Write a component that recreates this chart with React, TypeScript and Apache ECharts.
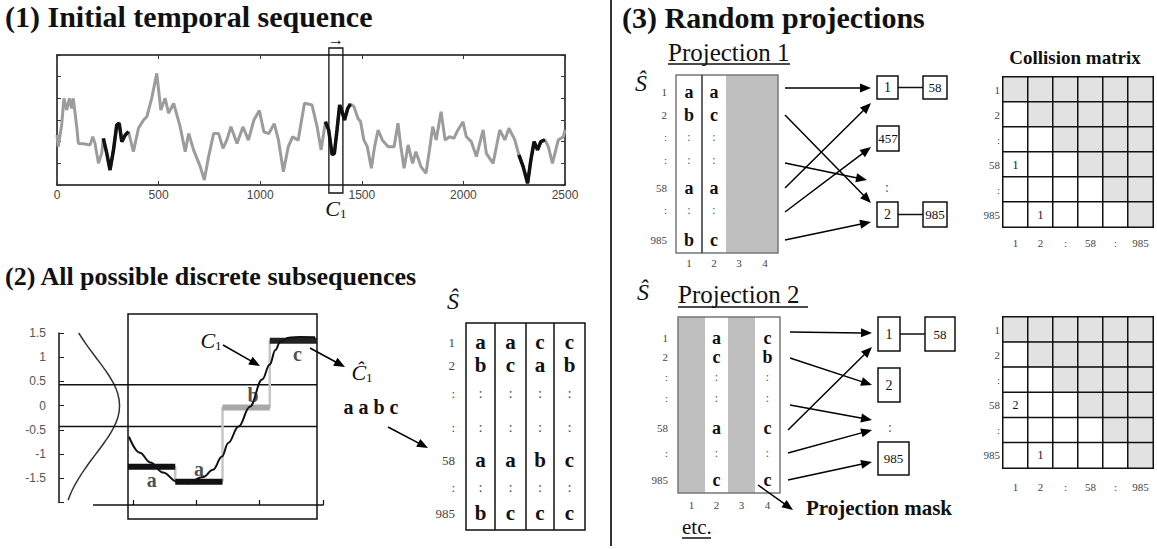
import { useEffect, useRef } from "react";
import * as echarts from "echarts";

const SERIF = "'Liberation Serif', 'Times New Roman', serif";
const SANS = "'Liberation Sans', Arial, sans-serif";

// ---------------- Panel 1 : initial temporal sequence ----------------
const seqT = [0, 6, 23, 34, 48, 61, 72, 80, 97, 105, 130, 163, 176, 187, 204, 220, 228, 245, 261, 278, 294, 306, 319, 336, 352, 376, 401, 426, 442, 466, 491, 511, 532, 549, 574, 606, 631, 648, 672, 705, 725, 746, 771, 795, 817, 836, 856, 886, 915, 942, 969, 996, 1018, 1042, 1069, 1090, 1114, 1138, 1159, 1187, 1198, 1218, 1255, 1280, 1300, 1321, 1337, 1354, 1365, 1378, 1391, 1403, 1415, 1431, 1444, 1461, 1481, 1494, 1510, 1527, 1547, 1563, 1580, 1601, 1629, 1659, 1678, 1692, 1708, 1728, 1750, 1766, 1791, 1816, 1833, 1849, 1866, 1890, 1910, 1932, 1953, 1973, 1998, 2014, 2039, 2064, 2097, 2113, 2146, 2179, 2204, 2224, 2253, 2273, 2294, 2316, 2332, 2348, 2365, 2381, 2401, 2418, 2438, 2467, 2492, 2500];
const seqV = [-0.69, -1.23, -0.23, 1.0, 0.46, 1.0, 0.54, 1.0, -0.31, -1.08, -1.1, -1.15, -0.77, -1.08, -2.0, -1.54, -0.85, -1.54, -2.31, -1.38, -0.23, -0.15, -1.0, -0.69, -0.54, -1.46, -0.38, 0, 0.15, 1.0, 2.15, 0.46, 1.0, 0.31, 0.77, -0.31, -1.46, -0.62, -1.38, -2.15, -2.77, -1.69, -0.62, -0.62, -1.31, -0.92, -0.31, -1.08, -0.32, -0.93, 0, 0.44, -0.55, -0.63, -0.17, -0.93, -2.39, -1.24, -0.78, -0.93, -0.31, 0.77, 0.69, -0.31, -1.38, -0.08, -0.46, -1.61, -1.54, -0.46, 0.69, 0.38, 0, 0.54, 0.74, 0.62, 0.08, -0.08, -0.92, -1.23, -2.23, -1.23, -0.46, -0.92, -1.23, -1.23, -0.15, -1.23, -2.23, -1.15, -2.0, -1.46, -2.15, -2.46, -1.38, -0.31, -0.92, 0.38, -0.92, -0.77, -0.85, -0.46, -0.08, -0.77, -1.0, -1.69, -0.46, -1.54, -2.0, -0.46, -0.92, -0.38, -0.92, -1.61, -2.15, -2.92, -1.85, -1.0, -1.38, -1.0, -0.92, -1.23, -2.0, -0.92, -0.77, -0.46];
const highlightRanges = [[228, 352], [1321, 1444], [2273, 2401]];
const c1Window = [1338, 1407];

// ---------------- Panel 2 : discretisation ----------------
const breakpoints = [-0.43, 0.43];
const gaussV = [1.5, 1.25, 1, 0.75, 0.5, 0.25, 0, -0.25, -0.5, -0.75, -1, -1.25, -1.5, -1.75, -1.95];
const gaussPdf = [0.13, 0.183, 0.242, 0.301, 0.352, 0.387, 0.399, 0.387, 0.352, 0.301, 0.242, 0.183, 0.13, 0.086, 0.06];
const c1Pos = [0.02, 0.25, 0.47, 0.74, 1.04, 1.25, 1.59, 1.8, 1.99, 2.12, 2.34, 2.58, 2.84, 3.0, 3.12, 3.22, 3.4, 3.64, 3.96];
const c1Val = [-0.64, -0.97, -1.17, -1.38, -1.57, -1.6, -1.47, -1.32, -1.05, -0.77, -0.43, -0.02, 0.54, 0.85, 1.15, 1.32, 1.4, 1.42, 1.41];
const paaValues = [-1.26, -1.57, -0.04, 1.34];
const saxWord = ["a", "a", "b", "c"];

const sHatRowLabels = ["1", "2", ":", ":", "58", ":", "985"];
const sHatCells = [
  ["a", "a", "c", "c"],
  ["b", "c", "a", "b"],
  [":", ":", ":", ":"],
  [":", ":", ":", ":"],
  ["a", "a", "b", "c"],
  [":", ":", ":", ":"],
  ["b", "c", "c", "c"],
];
const colNumbers = ["1", "2", "3", "4"];

// ---------------- Panel 3 : random projections ----------------
const mask1 = [true, true, false, false];
const mask2 = [false, true, false, true];
const proj1Buckets = ["1", "457", ":", "2"];
const proj1Partners = ["58", "", "", "985"];
const proj2Buckets = ["1", "2", ":", "985"];
const proj2Partners = ["58", "", "", ""];
const cmLabels = ["1", "2", ":", "58", ":", "985"];
const cm1Counts = [[3, 0, 1], [5, 1, 1]]; // [row, col, count]
const cm2Counts = [[3, 0, 2], [5, 1, 1]];

// ---------------- layout (pixels) ----------------
const G1 = { left: 57, top: 55, width: 508, height: 130 };
const G2Y = { left: 59, top: 333, width: 258, height: 169.6 };
const Y2_MIN = -2, Y2_MAX = 1.5, GAUSS_X_MAX = 1.7;
const BOX = { left: 128, top: 314, width: 189, height: 205 };
const STRIP = { lineStart: 93, left: 133, width: 190, top: 480, height: 25 };
const PX_PER_UNIT = G2Y.height / (Y2_MAX - Y2_MIN);
const BOX_YMAX = Y2_MAX + (G2Y.top - BOX.top) / PX_PER_UNIT;
const BOX_YMIN = Y2_MIN - (BOX.top + BOX.height - (G2Y.top + G2Y.height)) / PX_PER_UNIT;

const T2 = { x: [466, 495, 526, 554, 585], top: 323, bottom: 530, rows: [342, 365, 393, 427, 460, 487, 513], labelX: 455, font: 21 };
const P1 = { x: [676, 702, 726, 752, 778], top: 75, bottom: 253, rows: [92, 115, 137, 160, 188, 210, 240], labelX: 667, colLabelY: 263, font: 18 };
const P2 = { x: [678, 705, 728, 755, 780], top: 317, bottom: 493, rows: [338, 357, 377, 398, 428, 453, 480], labelX: 668, colLabelY: 505, font: 18 };

const P1_BOXES = [
  { x: 877, y: 76, w: 21, h: 23 },
  { x: 877, y: 126, w: 22, h: 25 },
  { x: 887, y: 187, w: 0, h: 0 },
  { x: 877, y: 202, w: 21, h: 25 },
];
const P1_PARTNER_X = 923, P1_PARTNER_W = 24;
const P2_BOXES = [
  { x: 878, y: 317, w: 22, h: 34 },
  { x: 878, y: 368, w: 22, h: 34 },
  { x: 890, y: 427, w: 0, h: 0 },
  { x: 878, y: 442, w: 31, h: 33 },
];
const P2_PARTNER_X = 925, P2_PARTNER_W = 30;
const P1_ARROWS = [[785, 88, 871, 88], [785, 115, 871, 203], [785, 163, 867, 180], [785, 188, 871, 103], [785, 212, 871, 147], [785, 240, 871, 222]];
const P2_ARROWS = [[790, 332, 872, 333], [790, 358, 872, 385], [790, 405, 872, 420], [788, 430, 872, 347], [788, 453, 872, 430], [788, 480, 872, 462]];

function text(x: number, y: number, t: string, font: string, extra: any = {}) {
  return {
    type: "text",
    z: 20,
    style: {
      x, y, text: t, font, fill: extra.fill || "#111",
      textAlign: extra.align || "center", align: extra.align || "center",
      textVerticalAlign: "middle", verticalAlign: "middle",
    },
  };
}

function arrow(x1: number, y1: number, x2: number, y2: number, lw = 1.5, head = 11, hw = 4.5) {
  const dx = x2 - x1, dy = y2 - y1, L = Math.hypot(dx, dy), ux = dx / L, uy = dy / L;
  const bx = x2 - ux * head, by = y2 - uy * head;
  return [
    { type: "line", z: 20, shape: { x1, y1, x2: bx + ux, y2: by + uy }, style: { stroke: "#000", lineWidth: lw } },
    { type: "polygon", z: 20, shape: { points: [[x2, y2], [bx - uy * hw, by + ux * hw], [bx + uy * hw, by - ux * hw]] }, style: { fill: "#000" } },
  ];
}

function hline(x1: number, x2: number, y: number, stroke = "#111", lw = 1.5) {
  return { type: "line", z: 20, shape: { x1, y1: y, x2, y2: y }, style: { stroke, lineWidth: lw } };
}
function vline(x: number, y1: number, y2: number, stroke = "#111", lw = 1.5) {
  return { type: "line", z: 20, shape: { x1: x, y1, x2: x, y2 }, style: { stroke, lineWidth: lw } };
}

function table(L: any, mask: boolean[] | null, colLabels: boolean, border: string, rowFont: number) {
  const els: any[] = [];
  const x0 = L.x[0], x1 = L.x[4];
  els.push({ type: "rect", z: 15, shape: { x: x0, y: L.top, width: x1 - x0, height: L.bottom - L.top }, style: { fill: "#fff" } });
  for (let c = 0; c < 4; c++) {
    if (mask && !mask[c]) {
      els.push({ type: "rect", z: 16, shape: { x: L.x[c], y: L.top, width: L.x[c + 1] - L.x[c], height: L.bottom - L.top }, style: { fill: "#bfbfbf" } });
    }
  }
  els.push({ type: "rect", z: 17, shape: { x: x0, y: L.top, width: x1 - x0, height: L.bottom - L.top }, style: { fill: "none", stroke: border, lineWidth: 1.5 } });
  for (let c = 1; c < 4; c++) {
    if (!mask || (mask[c - 1] && mask[c])) els.push(vline(L.x[c], L.top, L.bottom, mask ? "#333" : "#111", 1.5));
  }
  sHatRowLabels.forEach((lab, r) => {
    els.push(text(L.labelX, L.rows[r], lab, `${rowFont}px ${SERIF}`, { align: "right", fill: "#444" }));
    sHatCells[r].forEach((ch, c) => {
      if (mask && !mask[c]) return;
      const cx = (L.x[c] + L.x[c + 1]) / 2;
      const f = ch === ":" ? `${L.font - 6}px ${SERIF}` : `bold ${L.font}px ${SERIF}`;
      els.push(text(cx, L.rows[r], ch, f, { fill: ch === ":" ? "#555" : "#111" }));
    });
  });
  if (colLabels) {
    colNumbers.forEach((n, c) => els.push(text((L.x[c] + L.x[c + 1]) / 2, L.colLabelY, n, `11px ${SERIF}`, { fill: "#444" })));
  }
  return els;
}

function buckets(boxes: any[], labels: string[], partners: string[], px: number, pw: number) {
  const els: any[] = [];
  boxes.forEach((b, i) => {
    if (labels[i] === ":") {
      els.push(text(b.x, b.y, ":", `14px ${SERIF}`, { fill: "#555" }));
      return;
    }
    els.push({ type: "rect", z: 20, shape: { x: b.x, y: b.y, width: b.w, height: b.h }, style: { fill: "#fff", stroke: "#111", lineWidth: 1.5 } });
    els.push(text(b.x + b.w / 2, b.y + b.h / 2, labels[i], `${labels[i].length > 2 ? 13 : 14}px ${SERIF}`));
    if (partners[i]) {
      els.push(hline(b.x + b.w, px, b.y + b.h / 2));
      els.push({ type: "rect", z: 20, shape: { x: px, y: b.y, width: pw, height: b.h }, style: { fill: "#fff", stroke: "#111", lineWidth: 1.5 } });
      els.push(text(px + pw / 2, b.y + b.h / 2, partners[i], `13px ${SERIF}`));
    }
  });
  return els;
}

// cell value: [col, row, count, shade(1 = upper triangle)]
function heatData(counts: number[][]) {
  const out: number[][] = [];
  for (let r = 0; r < cmLabels.length; r++) {
    for (let c = 0; c < cmLabels.length; c++) {
      const hit = counts.find((k) => k[0] === r && k[1] === c);
      out.push([c, r, hit ? hit[2] : 0, c >= r ? 1 : 0]);
    }
  }
  return out;
}

export default function App() {
  const ref = useRef<HTMLDivElement>(null);
  useEffect(() => {
    if (!ref.current) return;
    const chart = echarts.init(ref.current, null, { renderer: "svg" });
    const seqData = seqT.map((t, i) => [t, seqV[i]]);
    const blackSeries = highlightRanges.map(([a, b]) => ({
      type: "line", xAxisIndex: 0, yAxisIndex: 0, symbol: "none", z: 3,
      lineStyle: { color: "#111", width: 3.5 },
      data: seqData.filter((d) => d[0] >= a && d[0] <= b),
    }));
    const steps: number[][] = [];
    paaValues.forEach((v, i) => { steps.push([i, v]); steps.push([i + 1, v]); });
    const paaColors = ["#111", "#111", "#a8a8a8", "#222"];
    const letterPos = ["bottom", "top", "top", "bottom"];
    const letterOff = [[0, 0], [0, 0], [7, 0], [4, 0]];

    const axisBase = { axisLine: { show: false }, axisTick: { show: false }, axisLabel: { show: false }, splitLine: { show: false } };
    const boxLine = { show: true, onZero: false, lineStyle: { color: "#111", width: 1.5 } };
    const innerTick = { show: true, inside: true, length: 4, lineStyle: { color: "#333" } };

    const cmAxes = (gi: number, margin: number) => ({
      x: {
        type: "category", gridIndex: gi, data: cmLabels, position: "bottom",
        axisLine: { show: false }, axisTick: { show: false }, splitLine: { show: false },
        axisLabel: { fontFamily: SERIF, fontSize: 11, color: "#444", margin },
      },
      y: {
        type: "category", gridIndex: gi, data: cmLabels, inverse: true,
        axisLine: { show: false }, axisTick: { show: false }, splitLine: { show: false },
        axisLabel: { fontFamily: SERIF, fontSize: 11, color: "#444", margin: 3 },
      },
    });
    const cm1 = cmAxes(4, 10), cm2 = cmAxes(5, 13);

    const series: any[] = [
      {
        type: "line", xAxisIndex: 0, yAxisIndex: 0, symbol: "none", z: 2,
        lineStyle: { color: "#9c9c9c", width: 3 }, data: seqData,
      },
      ...blackSeries,
      {
        type: "line", xAxisIndex: 2, yAxisIndex: 2, symbol: "none", smooth: true,
        lineStyle: { color: "#333", width: 1.5 }, data: gaussV.map((v, i) => [gaussPdf[i], v]),
      },
      ...breakpoints.map((b) => ({
        type: "line", xAxisIndex: 2, yAxisIndex: 2, symbol: "none",
        lineStyle: { color: "#111", width: 1.5 }, data: [[0, b], [GAUSS_X_MAX, b]],
      })),
      {
        type: "line", xAxisIndex: 3, yAxisIndex: 3, symbol: "none",
        lineStyle: { color: "#c6c6c6", width: 2.5 }, data: steps,
      },
      ...paaValues.map((v, i) => ({
        type: "line", xAxisIndex: 3, yAxisIndex: 3, symbol: "none",
        lineStyle: { color: paaColors[i], width: 6, cap: "butt" }, data: [[i, v], [i + 1, v]],
      })),
      {
        type: "line", xAxisIndex: 3, yAxisIndex: 3, symbol: "none", smooth: 0.4, smoothMonotone: "x", z: 4,
        lineStyle: { color: "#111", width: 2 }, data: c1Pos.map((p, i) => [p, c1Val[i]]),
      },
      {
        type: "scatter", xAxisIndex: 3, yAxisIndex: 3, symbolSize: 0.1, z: 5,
        itemStyle: { color: "rgba(0,0,0,0)" },
        data: saxWord.map((ch, i) => ({
          value: [i + 0.5, paaValues[i]],
          label: { show: true, formatter: ch, position: letterPos[i], offset: letterOff[i], distance: 3, fontFamily: SERIF, fontWeight: "bold", fontSize: 20, color: "#222" },
        })),
      },
    ];
    const heatIdx: number[] = [];
    [{ xi: 5, counts: cm1Counts }, { xi: 6, counts: cm2Counts }].forEach((m) => {
      heatIdx.push(series.length);
      series.push({
        type: "heatmap", xAxisIndex: m.xi, yAxisIndex: m.xi,
        itemStyle: { borderColor: "#111", borderWidth: 1.5 },
        label: {
          show: true, fontFamily: SERIF, fontSize: 12, color: "#111",
          formatter: (p: any) => (p.value[2] ? String(p.value[2]) : ""),
        },
        emphasis: { disabled: true },
        data: heatData(m.counts),
      });
    });

    chart.setOption({
      animation: false,
      backgroundColor: "#fff",
      visualMap: {
        type: "piecewise", show: false, seriesIndex: heatIdx, dimension: 3,
        pieces: [{ value: 1, color: "#e2e2e2" }, { value: 0, color: "#ffffff" }],
      },
      grid: [
        { ...G1 },
        { ...G2Y },
        { ...BOX, show: true, borderColor: "#111", borderWidth: 1.5, backgroundColor: "transparent" },
        { left: STRIP.left, width: STRIP.width, top: STRIP.top, height: STRIP.height },
        { left: 1003, top: 77, width: 150, height: 150 },
        { left: 1003, top: 317, width: 150, height: 151 },
      ],
      xAxis: [
        {
          type: "value", gridIndex: 0, min: 0, max: 2500, interval: 500, position: "bottom",
          axisLine: boxLine, axisTick: innerTick,
          axisLabel: { fontFamily: SANS, fontSize: 12, color: "#444", margin: 4, formatter: (v: number) => String(v) },
          splitLine: { show: false },
        },
        {
          type: "value", gridIndex: 0, min: 0, max: 2500, interval: 500, position: "top",
          axisLine: boxLine, axisTick: innerTick,
          axisLabel: { show: false }, splitLine: { show: false },
        },
        { type: "value", gridIndex: 1, min: 0, max: GAUSS_X_MAX, ...axisBase },
        { type: "value", gridIndex: 2, min: 0, max: 4, ...axisBase },
        {
          type: "value", gridIndex: 3, min: 0, max: 3, interval: 1, position: "bottom",
          axisLine: boxLine,
          axisTick: { show: true, inside: true, length: 5, lineStyle: { color: "#111", width: 1.2 } },
          axisLabel: { show: false }, splitLine: { show: false },
        },
        cm1.x, cm2.x,
      ],
      yAxis: [
        {
          type: "value", gridIndex: 0, min: -3, max: 3, interval: 1, position: "left",
          axisLine: boxLine, axisTick: innerTick,
          axisLabel: { show: false }, splitLine: { show: false },
        },
        {
          type: "value", gridIndex: 0, min: -3, max: 3, interval: 1, position: "right",
          axisLine: boxLine, axisTick: innerTick,
          axisLabel: { show: false }, splitLine: { show: false },
        },
        {
          type: "value", gridIndex: 1, min: Y2_MIN, max: Y2_MAX, interval: 0.5, position: "left",
          axisLine: boxLine,
          axisTick: { show: true, inside: true, length: 5, lineStyle: { color: "#222" } },
          axisLabel: {
            fontFamily: SANS, fontSize: 12, color: "#555", margin: 13,
            formatter: (v: number) => (v <= Y2_MIN ? "" : String(v)),
          },
          splitLine: { show: false },
        },
        { type: "value", gridIndex: 2, min: BOX_YMIN, max: BOX_YMAX, ...axisBase },
        { type: "value", gridIndex: 3, min: 0, max: 1, ...axisBase },
        cm1.y, cm2.y,
      ],
      series,
    });

    const rx1 = chart.convertToPixel({ xAxisIndex: 0 }, c1Window[0]) as number;
    const rx2 = chart.convertToPixel({ xAxisIndex: 0 }, c1Window[1]) as number;
    const rcx = (rx1 + rx2) / 2;
    const subRich = {
      c: { fontFamily: SERIF, fontStyle: "italic", fontSize: 22, fill: "#111" },
      s: { fontFamily: SERIF, fontSize: 13, fill: "#111", padding: [10, 0, 0, 0] },
    };
    const richText = (x: number, y: number, t: string) => ({
      type: "text", z: 20,
      style: { x, y, text: t, rich: subRich, textAlign: "center", align: "center", textVerticalAlign: "middle", verticalAlign: "middle" },
    });

    const g: any[] = [
      text(5, 16, "(1) Initial temporal sequence", `bold 30px ${SERIF}`, { align: "left" }),
      text(5, 276, "(2) All possible discrete subsequences", `bold 26px ${SERIF}`, { align: "left" }),
      text(622, 17, "(3) Random projections", `bold 30px ${SERIF}`, { align: "left" }),
      vline(611, 0, 546, "#333", 2),
      { type: "rect", z: 20, shape: { x: rx1, y: 48, width: rx2 - rx1, height: 145 }, style: { fill: "none", stroke: "#111", lineWidth: 1.3 } },
      text(rcx, 39, "→", `16px ${SERIF}`),
      richText(rcx, 208, "{c|C}{s|1}"),
      hline(STRIP.lineStart, STRIP.left, STRIP.top + STRIP.height, "#111", 1.5),
      richText(211, 340, "{c|C}{s|1}"),
      ...arrow(223, 345, 260, 366),
      ...arrow(310, 348, 345, 367),
      richText(362, 372, "{c|Ĉ}{s|1}"),
      text(371, 407, saxWord.join(" "), `bold 20px ${SERIF}`),
      ...arrow(388, 427, 428, 448),
      text(453, 301, "Ŝ", `italic 24px ${SERIF}`),
      ...table(T2, null, false, "#111", 13),
      text(668, 52, "Projection 1", `25px ${SERIF}`, { align: "left" }),
      hline(668, 790, 64, "#111", 1.5),
      text(641, 83, "Ŝ", `italic 24px ${SERIF}`),
      ...table(P1, mask1, true, "#777", 11),
      ...buckets(P1_BOXES, proj1Buckets, proj1Partners, P1_PARTNER_X, P1_PARTNER_W),
      ...P1_ARROWS.flatMap((a) => arrow(a[0], a[1], a[2], a[3])),
      text(1075, 57, "Collision matrix", `bold 19px ${SERIF}`),
      text(678, 294, "Projection 2", `25px ${SERIF}`, { align: "left" }),
      hline(678, 808, 307, "#111", 1.5),
      text(643, 292, "Ŝ", `italic 24px ${SERIF}`),
      ...table(P2, mask2, true, "#777", 11),
      ...buckets(P2_BOXES, proj2Buckets, proj2Partners, P2_PARTNER_X, P2_PARTNER_W),
      ...P2_ARROWS.flatMap((a) => arrow(a[0], a[1], a[2], a[3])),
      ...arrow(758, 485, 793, 510),
      text(806, 508, "Projection mask", `bold 21px ${SERIF}`, { align: "left" }),
      text(682, 527, "etc.", `21px ${SERIF}`, { align: "left" }),
      hline(682, 711, 538, "#111", 1.5),
    ];
    chart.setOption({ graphic: { elements: g } });
    return () => chart.dispose();
  }, []);
  return (
    <div
      ref={ref}
      style={{ position: "absolute", left: 0, top: 0, width: 1157, height: 549, background: "#fff" }}
    />
  );
}
